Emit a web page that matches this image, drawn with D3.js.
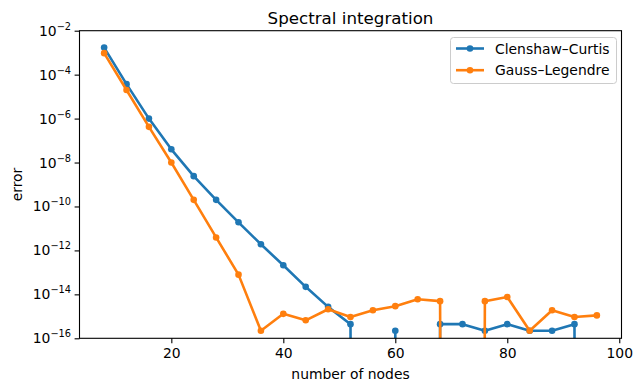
<!DOCTYPE html>
<html>
<head>
<meta charset="utf-8">
<script src="https://cdn.jsdelivr.net/npm/d3@7"></script>
<style>
  body { margin: 0; background: #fff; }
  text { font-family: "DejaVu Sans", sans-serif; fill: #000; }
</style>
</head>
<body>
<svg id="chart" width="642" height="391"></svg>
<script>
// data
var nodes = [8, 12, 16, 20, 24, 28, 32, 36, 40, 44, 48, 52, 56, 60, 64, 68, 72, 76, 80, 84, 88, 92, 96];
var clenshawCurtis = [1.7e-3, 3.7e-5, 1.0e-6, 4.0e-8, 2.4e-9, 2.0e-10, 1.9e-11, 1.9e-12, 2.1e-13, 2.2e-14, 2.7e-15, 4.4e-16,
  0, 2.2e-16, 0, 4.4e-16, 4.4e-16, 2.2e-16, 4.4e-16, 2.2e-16, 2.2e-16, 4.4e-16, 0];
var gaussLegendre = [9.5e-4, 2.0e-5, 4.2e-7, 1.0e-8, 2.0e-10, 3.9e-12, 7.9e-14, 2.2e-16, 1.3e-15, 6.6e-16, 2.1e-15, 9.3e-16,
  1.9e-15, 2.9e-15, 6.0e-15, 4.9e-15, 0, 4.9e-15, 7.6e-15, 2.2e-16, 1.9e-15, 9.3e-16, 1.1e-15];
var seriesNames = ["Clenshaw\u2013Curtis", "Gauss\u2013Legendre"];
var colors = ["#1f77b4", "#ff7f0e"];
var xTicks = [20, 40, 60, 80, 100];
var yExponents = [-2, -4, -6, -8, -10, -12, -14, -16];

// plot box (note: "top" is reserved on window, so use other names)
var pL = 79.5, pR = 621.5, pT = 30.7, pB = 338.3;
var svg = d3.select("#chart");

var x = d3.scaleLinear().domain([3.6, 100.4]).range([pL, pR]);
var y = d3.scaleLog().domain([1e-16, 1e-2]).range([pB, pT]);

svg.append("defs").append("clipPath").attr("id", "plotclip")
  .append("rect").attr("x", pL).attr("y", pT)
  .attr("width", pR - pL).attr("height", pB - pT);

// zeros get clipped to a tiny value like matplotlib does on a log axis
function yv(v) { return y(v > 0 ? v : 1e-300); }

var plot = svg.append("g").attr("clip-path", "url(#plotclip)");
var line = d3.line().x(d => x(d[0])).y(d => yv(d[1]));

[clenshawCurtis, gaussLegendre].forEach(function(vals, i) {
  var pts = nodes.map((n, k) => [n, vals[k]]);
  plot.append("path").datum(pts)
    .attr("d", line)
    .attr("fill", "none")
    .attr("stroke", colors[i])
    .attr("stroke-width", 2.6)
    .attr("stroke-linejoin", "round");
  plot.selectAll(null).data(pts.filter(d => d[1] > 0)).enter()
    .append("circle")
    .attr("cx", d => x(d[0]))
    .attr("cy", d => yv(d[1]))
    .attr("r", 3.3)
    .attr("fill", colors[i]);
});

// spines
svg.append("rect").attr("x", pL).attr("y", pT)
  .attr("width", pR - pL).attr("height", pB - pT)
  .attr("fill", "none").attr("stroke", "#000").attr("stroke-width", 1.1);

// x axis
var xa = svg.append("g").attr("transform", "translate(0," + pB + ")")
  .call(d3.axisBottom(x).tickValues(xTicks).tickSize(4.9).tickPadding(4.5).tickFormat(d3.format("d")));
xa.select(".domain").remove();
xa.selectAll("line").attr("stroke-width", 1.1);
xa.selectAll("text").attr("font-size", 13.9).attr("font-family", "DejaVu Sans");

// y axis with 10^n labels
var ya = svg.append("g").attr("transform", "translate(" + pL + ",0)")
  .call(d3.axisLeft(y).tickValues(yExponents.map(e => Math.pow(10, e))).tickSize(4.9).tickFormat(""));
ya.select(".domain").remove();
ya.selectAll("line").attr("stroke-width", 1.1);
yExponents.forEach(function(e) {
  var t = svg.append("text")
    .attr("x", pL - 8.4)
    .attr("y", y(Math.pow(10, e)) + 5)
    .attr("text-anchor", "end")
    .attr("font-size", 13.9);
  t.append("tspan").text("10");
  t.append("tspan").attr("dy", -6).attr("font-size", 9.8).text("\u2212" + (-e));
});

// labels
svg.append("text").attr("x", (pL + pR) / 2).attr("y", 24)
  .attr("text-anchor", "middle").attr("font-size", 16.7).text("Spectral integration");
svg.append("text").attr("x", (pL + pR) / 2).attr("y", 379)
  .attr("text-anchor", "middle").attr("font-size", 13.9).text("number of nodes");
svg.append("text").attr("transform", "translate(22," + ((pT + pB) / 2) + ") rotate(-90)")
  .attr("text-anchor", "middle").attr("font-size", 13.9).text("error");

// legend
var lg = svg.append("g");
lg.append("rect").attr("x", 450.5).attr("y", 37.5).attr("width", 166).attr("height", 46)
  .attr("rx", 3).attr("fill", "#fff").attr("fill-opacity", 0.8)
  .attr("stroke", "#ccc").attr("stroke-width", 1);
seriesNames.forEach(function(name, i) {
  var ly = 48.5 + i * 21.7;
  lg.append("line").attr("x1", 456).attr("x2", 484).attr("y1", ly).attr("y2", ly)
    .attr("stroke", colors[i]).attr("stroke-width", 2.6);
  lg.append("circle").attr("cx", 470).attr("cy", ly).attr("r", 3.3).attr("fill", colors[i]);
  lg.append("text").attr("x", 495).attr("y", ly + 5).attr("font-size", 13.9).text(name);
});
</script>
</body>
</html>
